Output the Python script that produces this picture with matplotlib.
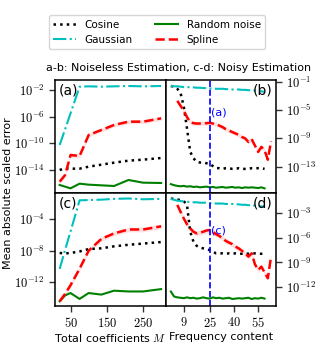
from matplotlib import pyplot as plt
from matplotlib.ticker import FixedLocator, FixedFormatter, NullLocator
import numpy as np

plt.rcParams['font.family'] = 'DejaVu Sans'
plt.rcParams['mathtext.fontset'] = 'cm'
plt.rcParams['font.size'] = 8

# values are log10 of the error
M = [20, 35, 50, 75, 100, 135, 170, 210, 250, 300]

a_cos = [-14.0, -13.75, -13.8, -13.8, -13.5, -13.2, -12.9, -12.6, -12.45, -12.2]
a_gau = [-10.25, -7.9, -5.5, -1.5, -1.45, -1.5, -1.45, -1.4, -1.45, -1.4]
a_rnd = [-16.25, -16.5, -16.75, -16.05, -16.2, -16.3, -16.4, -15.5, -15.9, -15.95]
a_spl = [-15.75, -14.75, -11.75, -11.9, -8.75, -8.0, -7.25, -6.75, -6.75, -6.25]

c_cos = [-8.3, -8.35, -8.3, -8.1, -7.8, -7.7, -7.45, -7.25, -7.1, -6.9]
c_gau = [-10.33, -7.9, -5.55, -1.58, -1.55, -1.5, -1.4, -1.35, -1.45, -1.4]
c_rnd = [-14.45, -13.7, -13.4, -14.15, -13.4, -13.6, -13.1, -13.2, -13.2, -12.9]
c_spl = [-14.45, -13.5, -12.4, -10.3, -8.0, -6.5, -5.8, -5.3, -5.3, -4.9]

freq = [1, 3, 5, 7, 9, 11, 13, 15, 17, 19, 21, 23, 25, 27, 29, 31,
        33, 35, 37, 39, 41, 43, 45, 47, 49, 51, 53, 55, 57, 59]
freq_spl = [5, 7, 9, 11, 13, 15, 17, 19, 21, 23, 25, 27, 29, 31, 33, 35,
            37, 39, 41, 43, 45, 47, 49, 51, 53, 55, 57, 59, 61, 63]

b_cos = [-1.6, -1.7, -2.0, -2.6, -4.5, -7.6, -10.9, -11.8, -12.3, -12.4,
         -12.4, -12.5, -12.6, -12.9, -13.2, -13.2, -13.3, -13.2, -13.2, -13.3,
         -13.3, -13.2, -13.3, -13.3, -13.3, -13.2, -13.2, -13.2, -13.2, -13.3]
b_gau = [-1.6, -1.65, -1.65, -1.7, -1.75, -1.75, -1.8, -1.8, -1.85, -1.85,
         -1.9, -1.9, -1.95, -1.95, -2.0, -2.0, -2.0, -2.05, -2.05, -2.1,
         -2.1, -2.1, -2.15, -2.15, -2.2, -2.2, -2.25, -2.3, -2.35, -2.45]
b_rnd = [-15.45, -15.6, -15.7, -15.75, -15.7, -15.8, -15.75, -15.85, -15.8, -15.9,
         -15.85, -15.8, -15.9, -15.85, -15.95, -15.9, -15.85, -15.95, -15.9, -15.85,
         -15.95, -15.9, -16.0, -15.9, -15.95, -15.9, -15.95, -16.0, -15.9, -16.05]
b_spl = [-3.7, -4.4, -5.1, -6.0, -6.7, -6.85, -6.9, -6.9, -6.85, -6.85,
         -6.8, -6.9, -7.0, -7.2, -7.4, -7.7, -7.9, -8.1, -8.3, -8.5,
         -8.8, -9.0, -9.5, -9.1, -10.0, -10.9, -10.2, -10.7, -12.0, -9.4]

d_cos = [-1.3, -1.35, -1.4, -1.5, -1.6, -2.1, -5.3, -6.5, -7.0, -7.2,
         -7.3, -7.4, -7.5, -7.7, -7.9, -7.9, -7.9, -7.95, -7.9, -7.95,
         -7.9, -7.95, -7.95, -7.9, -7.95, -7.95, -7.9, -7.95, -7.95, -7.95]
d_gau = [-1.35, -1.45, -1.55, -1.6, -1.65, -1.7, -1.7, -1.75, -1.75, -1.8,
         -1.8, -1.8, -1.85, -1.85, -1.9, -1.9, -1.9, -1.95, -1.95, -1.95,
         -2.0, -2.0, -2.05, -2.05, -2.1, -2.1, -2.15, -2.2, -2.25, -2.3]
d_rnd = [-12.5, -13.1, -13.2, -13.25, -13.3, -13.2, -13.3, -13.25, -13.35, -13.3,
         -13.2, -13.3, -13.35, -13.2, -13.3, -13.25, -13.35, -13.3, -13.25, -13.4,
         -13.35, -13.3, -13.35, -13.3, -13.25, -13.4, -13.3, -13.35, -13.25, -13.35]
d_spl = [-2.07, -2.9, -3.7, -4.4, -4.9, -5.3, -5.5, -5.4, -5.3, -5.15,
         -5.1, -5.3, -5.6, -5.8, -6.1, -6.4, -6.6, -6.8, -7.1, -7.3,
         -7.6, -7.9, -8.3, -7.9, -9.2, -9.9, -9.5, -10.2, -10.9, -8.3]

spline_spread = 0.3  # half width of the shaded band, in decades

fig = plt.figure(figsize=(3.31, 3.57), dpi=100)
ax_a = fig.add_axes([0.166, 0.4594, 0.335, 0.3165])
ax_b = fig.add_axes([0.5015, 0.4594, 0.332, 0.3165])
ax_c = fig.add_axes([0.166, 0.1429, 0.335, 0.3165])
ax_d = fig.add_axes([0.5015, 0.1429, 0.332, 0.3165])


def draw(ax, x, cos, gau, rnd, xs, spl):
    l1, = ax.plot(x, 10 ** np.array(cos), ':', color='k', lw=1.8)
    l2, = ax.plot(x, 10 ** np.array(gau), '-.', color='c', lw=1.5)
    l3, = ax.plot(x, 10 ** np.array(rnd), '-', color='g', lw=1.5)
    s = np.array(spl)
    ax.fill_between(xs, 10 ** (s - spline_spread), 10 ** (s + spline_spread),
                    color='r', alpha=0.12, lw=0)
    l4, = ax.plot(xs, 10 ** s, '--', color='r', lw=1.8)
    ax.set_yscale('log')
    ax.yaxis.set_minor_locator(NullLocator())
    for sp in ax.spines.values():
        sp.set_linewidth(1.1)
    return [l1, l2, l3, l4]


handles = draw(ax_a, M, a_cos, a_gau, a_rnd, M, a_spl)
draw(ax_c, M, c_cos, c_gau, c_rnd, M, c_spl)
draw(ax_b, freq, b_cos, b_gau, b_rnd, freq_spl, b_spl)
draw(ax_d, freq, d_cos, d_gau, d_rnd, freq_spl, d_spl)


def set_yticks(ax, exps):
    ax.yaxis.set_major_locator(FixedLocator([10.0 ** e for e in exps]))
    ax.yaxis.set_major_formatter(FixedFormatter(['$10^{%d}$' % e for e in exps]))


ax_a.set_ylim(10 ** -17.45, 10 ** -0.5)
ax_c.set_ylim(10 ** -15.05, 10 ** -0.65)
ax_b.set_ylim(10 ** -16.7, 10 ** -0.76)
ax_d.set_ylim(10 ** -14.24, 10 ** -0.63)
set_yticks(ax_a, [-2, -6, -10, -14])
set_yticks(ax_c, [-4, -8, -12])
set_yticks(ax_b, [-1, -5, -9, -13])
set_yticks(ax_d, [-3, -6, -9, -12])

for ax in (ax_b, ax_d):
    ax.yaxis.tick_right()
    ax.set_xlim(-2, 66)
    ax.axvline(25, color='b', ls='--', lw=1.2)
for ax in (ax_a, ax_c):
    ax.set_xlim(7, 313)

for ax in (ax_a, ax_b):
    ax.tick_params(axis='x', bottom=False, labelbottom=False)

ax_c.set_xticks([50, 150, 250])
ax_c.set_xticklabels(['$50$', '$150$', '$250$'])
ax_d.set_xticks([9, 25, 40, 55])
ax_d.set_xticklabels(['$9$', '$25$', '$40$', '$55$'])

for ax in (ax_a, ax_b, ax_c, ax_d):
    ax.tick_params(labelsize=9, length=4, width=1, color='#333333')

ax_c.set_xlabel('Total coefficients $M$', labelpad=1)
ax_d.set_xlabel('Frequency content', labelpad=1)

ax_b.text(26, 10 ** -5.3, '(a)', color='b', fontsize=8, ha='left', va='center')
ax_d.text(26, 10 ** -5.2, '(c)', color='b', fontsize=8, ha='left', va='center')

for ax, lab, x, ha in [(ax_a, '(a)', 0.03, 'left'), (ax_b, '(b)', 0.97, 'right'),
                       (ax_c, '(c)', 0.03, 'left'), (ax_d, '(d)', 0.97, 'right')]:
    ax.text(x, 0.97, lab, transform=ax.transAxes, fontsize=10, ha=ha, va='top')

fig.text(0.025, 0.459, 'Mean absolute scaled error', rotation=90,
         ha='center', va='center')
fig.text(0.538, 0.8095, 'a-b: Noiseless Estimation, c-d: Noisy Estimation',
         ha='center', va='center')

fig.legend(handles, ['Cosine', 'Gaussian', 'Random noise', 'Spline'],
           ncol=2, loc='center', bbox_to_anchor=(0.474, 0.910),
           handlelength=2.2, columnspacing=2.2, fontsize=7.5)

plt.savefig('out.png', dpi=100)
